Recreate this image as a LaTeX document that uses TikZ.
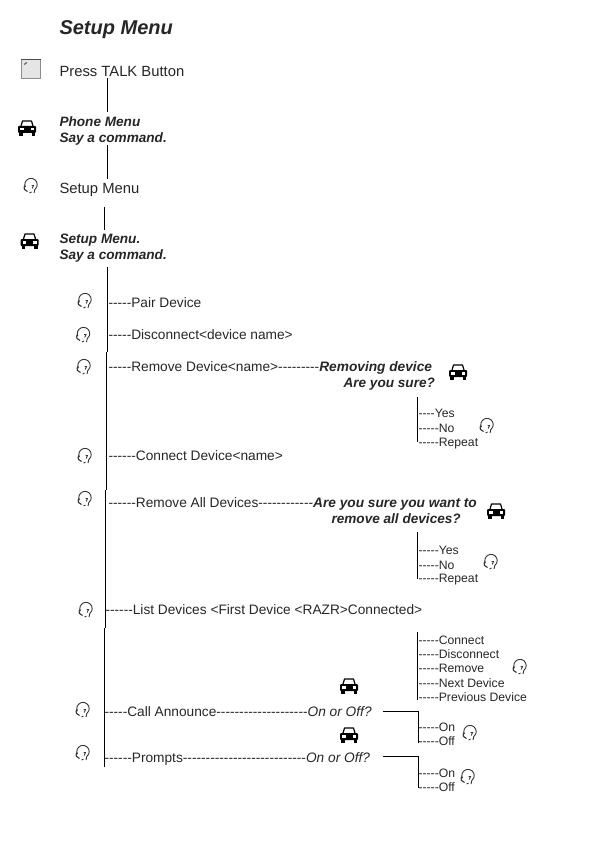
\documentclass[tikz,border=0pt]{standalone}
\usepackage{fontspec}
\newfontfamily\manualfont{Liberation Sans}
\tikzset{every picture/.style={line width=1pt}}
\tikzset{
    menuitem/.style={anchor=west, inner sep=0pt, text height=9.8pt, text depth=0pt, text=black!85, font=\manualfont\fontsize{13.7}{16}\selectfont},
    bigitem/.style={menuitem, text height=10.6pt, font=\manualfont\fontsize{14.8}{17}\selectfont},
    answer/.style={menuitem, text height=8.7pt, font=\manualfont\fontsize{12.2}{14}\selectfont},
    spoken/.style={menuitem, font=\manualfont\bfseries\itshape\fontsize{13.6}{16.5}\selectfont},
    caricon/.pic={
        % roof
        \draw[line width=1.2pt, line join=round] (-6,2) -- (-4.5,7) -- (4.5,7) -- (6,2);
        % body with lights
        \fill[rounded corners=1pt] (-9,-5) -- (-9,2) -- (9,2) -- (9,-5) -- cycle;
        \fill[white] (-7,-2.5) rectangle (-3.5,0);
        \fill[white] (3.5,-2.5) rectangle (7,0);
        \fill (-8,-8) rectangle (-4.5,-4);
        \fill (4.5,-8) rectangle (8,-4);
    },
    headseticon/.pic={
        \draw[line width=0.9pt, black!80] (-5.6,-1.2) arc (205:-25:6.2);
        \draw[line width=1.1pt, black!80] (-6.2,0.5) .. controls (-8,-2.5) and (-6,-5) .. (-3.5,-5.5);
        \draw[line width=0.9pt, black!80] (5.6,-1.2) -- (3.8,-3.5) -- (3,-7);
        \draw[line width=0.9pt, black!80] (0.5,0.5) -- (2.5,0.5) -- (1.2,-2.5);
        \draw[line width=0.9pt, black!80] (-1.5,-7) -- (0.5,-6);
    },
    talkicon/.pic={
        \fill[black!10] (0,0) rectangle (20,-19);
        \draw[black!45, line width=0.8pt] (0.5,-19) -- (0.5,0) -- (19.5,0) -- (19.5,-19) -- cycle;
        \draw[black!70, line width=1.4pt] (0,-0.3) -- (20,-0.3);
        \draw[black!60, line width=1.2pt] (3,-5.5) -- (6,-3.5);
    }
}

\begin{document}
\begin{tikzpicture}[x=1pt, y=1pt, line cap=butt]
    \useasboundingbox (0,0) rectangle (593,-842);

    \node[spoken, text height=14.3pt, font=\manualfont\bfseries\itshape\fontsize{20}{24}\selectfont] (title) at (59,-27.5) {Setup Menu};

    % top of the flow
    \path (21,-59) pic {talkicon};
    \node[bigitem] (press) at (59,-71) {Press TALK Button};
    \path (27,-128) pic {caricon};
    \node[spoken] (phone) at (59,-122) {Phone Menu};
    \node[spoken] (saya) at (59,-138) {Say a command.};
    \path (31,-186) pic {headseticon};
    \node[bigitem] (setup) at (59,-188) {Setup Menu};
    \path (29.5,-241) pic {caricon};
    \node[spoken] (setupsaid) at (59,-239) {Setup Menu.};
    \node[spoken] (sayb) at (59,-255) {Say a command.};

    \coordinate (a1) at (107.7,-78);
    \coordinate (a2) at (107.7,-112);
    \coordinate (b1) at (107.7,-145);
    \coordinate (b2) at (107.7,-179);
    \coordinate (c1) at (104,-207);
    \coordinate (c2) at (104,-230);
    \draw (a1) -- (a2);
    \draw (b1) -- (b2);
    \draw (c1) -- (c2);

    % spine, in four pieces
    \coordinate (s1) at (107.7,-267);
    \coordinate (s2) at (107.7,-352);
    \coordinate (s3) at (106.7,-352);
    \coordinate (s4) at (106.7,-490);
    \coordinate (s5) at (105,-490);
    \coordinate (s6) at (105,-628);
    \coordinate (s7) at (104,-628);
    \coordinate (s8) at (104,-767);
    \draw (s1) -- (s2);
    \draw (s3) -- (s4);
    \draw (s5) -- (s6);
    \draw (s7) -- (s8);

    % menu rows
    \path (85,-301) pic {headseticon};
    \node[menuitem] (pair) at (108,-303) {-----Pair Device};
    \path (83.5,-335) pic {headseticon};
    \node[menuitem] (disconnect) at (108,-335) {-----Disconnect<device name>};
    \path (84,-367) pic {headseticon};
    \node[menuitem] (remove) at (108,-367) {-----Remove Device<name>---------{\bfseries\itshape Removing device}};
    \node[spoken] (sure) at (343,-383) {Are you sure?};
    \path (458,-372) pic {caricon};
    \path (85,-456) pic {headseticon};
    \node[menuitem] (connect) at (108,-456) {------Connect Device<name>};
    \path (85,-499) pic {headseticon};
    \node[menuitem] (removeall) at (108,-503) {------Remove All Devices------------{\bfseries\itshape Are you sure you want to}};
    \node[spoken] (removeq) at (331,-519) {remove all devices?};
    \path (496,-511) pic {caricon};
    \path (86,-610) pic {headseticon};
    \node[menuitem] (list) at (105,-610) {------List Devices <First Device <RAZR>Connected>};
    \path (83,-710) pic {headseticon};
    \node[menuitem] (announce) at (104,-712) {-----Call Announce--------------------{\itshape On or Off?}};
    \path (349,-686) pic {caricon};
    \path (83,-753) pic {headseticon};
    \node[menuitem] (prompts) at (104,-758) {------Prompts---------------------------{\itshape On or Off?}};
    \path (349,-735) pic {caricon};

    % answers to the first question
    \coordinate (y1) at (417.7,-397);
    \coordinate (y2) at (417.7,-442);
    \draw (y1) -- (y2);
    \node[answer] (yesa) at (418,-413) {----Yes};
    \node[answer] (noa) at (418,-428) {-----No};
    \node[answer] (repeata) at (418,-442) {-----Repeat};
    \path (487,-426) pic {headseticon};

    % answers to the second question
    \coordinate (z1) at (417.7,-532);
    \coordinate (z2) at (417.7,-579);
    \draw (z1) -- (z2);
    \node[answer] (yesb) at (418,-550) {-----Yes};
    \node[answer] (nob) at (418,-565) {-----No};
    \node[answer] (repeatb) at (418,-578) {-----Repeat};
    \path (491,-562) pic {headseticon};

    % device list answers
    \coordinate (d1) at (417.7,-632);
    \coordinate (d2) at (417.7,-700);
    \draw (d1) -- (d2);
    \node[answer] (dconnect) at (418,-640) {-----Connect};
    \node[answer] (ddisconnect) at (418,-654) {-----Disconnect};
    \node[answer] (dremove) at (418,-668) {-----Remove};
    \node[answer] (dnext) at (418,-683) {-----Next Device};
    \node[answer] (dprevious) at (418,-697) {-----Previous Device};
    \path (520,-667) pic {headseticon};

    % on or off branches
    \coordinate (e1) at (383,-711);
    \coordinate (e2) at (418,-711);
    \coordinate (e3) at (418,-743);
    \draw (e1) -- (e2) -- (e3);
    \node[answer] (ona) at (418,-727) {-----On};
    \node[answer] (offa) at (418,-741) {-----Off};
    \path (470,-733) pic {headseticon};
    \coordinate (f1) at (383,-756);
    \coordinate (f2) at (418,-756);
    \coordinate (f3) at (418,-788);
    \draw (f1) -- (f2) -- (f3);
    \node[answer] (onb) at (418,-773) {-----On};
    \node[answer] (offb) at (418,-787) {-----Off};
    \path (468,-777) pic {headseticon};
\end{tikzpicture}
\end{document}
